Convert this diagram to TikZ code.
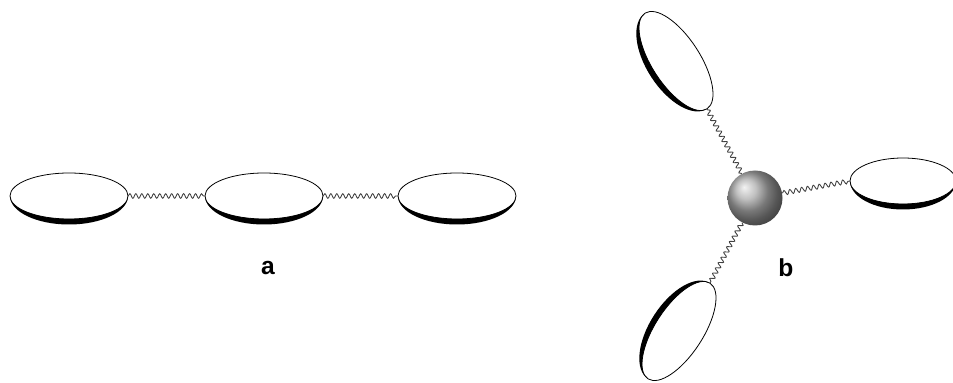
\documentclass[tikz,border=0pt]{standalone}
\usepackage{fontspec}
\setmainfont{Liberation Sans}
\usetikzlibrary{decorations.pathmorphing,shadings}

% disc seen at an angle: #1 centre, #2 rotation, #3 half length, #4 half width
\newcommand{\disc}[4]{%
  \begin{scope}[shift={#1}, rotate=#2]
    \fill[white] (0,0) ellipse[x radius=#3, y radius=#4];
    \fill[black] (-#3,0) arc[start angle=180, end angle=360, x radius=#3, y radius=#4]
      arc[start angle=0, end angle=-180, x radius=#3, y radius=#4+5.5] -- cycle;
    \draw[line width=0.45pt] (0,0) ellipse[x radius=#3, y radius=#4];
  \end{scope}}

\tikzset{
  spring/.style={draw=black!75, line width=0.5pt, decorate,
    decoration={snake, amplitude=1.3pt, segment length=3.4pt}},
  lab/.style={font=\fontsize{14}{16}\selectfont\bfseries},
  bead/.style={circle, minimum size=55*0.02cm, inner sep=0pt, shading=ball, ball color=gray!65}
}

\begin{document}
\begin{tikzpicture}[x=0.02cm, y=0.02cm]
\useasboundingbox (0,0) rectangle (953,382);

% a: three discs in a row
\disc{(69,186)}{0}{59}{23}
\disc{(264,186)}{0}{59}{23}
\disc{(457,186)}{0}{59}{23}
\coordinate (a1r) at (128,186);
\coordinate (a2l) at (205,186);
\coordinate (a2r) at (323,186);
\coordinate (a3l) at (398,186);
\draw[spring] (a1r) -- (a2l);
\draw[spring] (a2r) -- (a3l);
\node[lab] (la) at (268,114) {a};

% b: three discs round a bead
\disc{(676,321)}{-57}{57}{24}
\disc{(903,201)}{0}{53}{23}
\disc{(679,51)}{237}{57}{24}
\node[bead] (core) at (755,184) {};
\coordinate (bt) at (707,273);
\coordinate (br) at (850,201);
\coordinate (bb) at (710,99);
\draw[spring] (core) -- (bt);
\draw[spring] (core) -- (br);
\draw[spring] (core) -- (bb);
\node[lab] (lb) at (786,114) {b};
\end{tikzpicture}
\end{document}
